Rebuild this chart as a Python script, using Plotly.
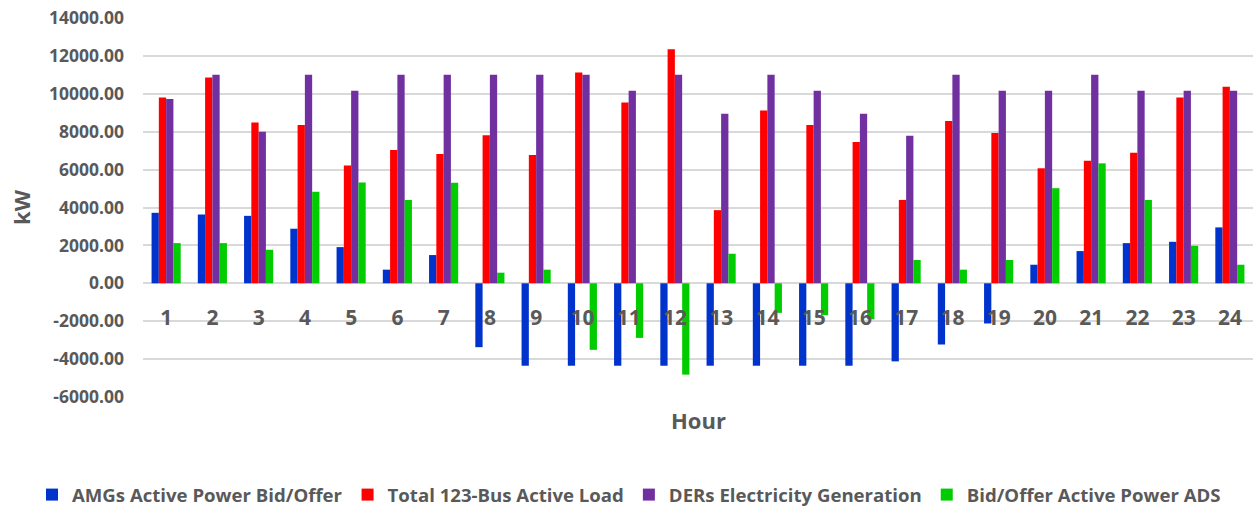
import plotly.graph_objects as go

hours = [str(h) for h in range(1, 25)]

amg_bid = [3720, 3630, 3560, 2880, 1910, 720, 1490, -3370, -4350, -4350, -4350, -4350,
           -4350, -4350, -4350, -4350, -4120, -3230, -2120, 980, 1700, 2120, 2190, 2950]
total_load = [9800, 10860, 8490, 8350, 6210, 7040, 6820, 7810, 6770, 11120, 9540, 12350,
              3860, 9120, 8350, 7460, 4400, 8560, 7930, 6070, 6470, 6890, 9800, 10370]
der_gen = [9720, 11000, 8000, 11000, 10160, 11000, 11000, 11000, 11000, 11000, 10160, 11000,
           8950, 11000, 10160, 8950, 7790, 11000, 10160, 10160, 11000, 10160, 10160, 10160]
ads_bid = [2120, 2120, 1770, 4830, 5320, 4400, 5300, 560, 720, -3510, -2880, -4820,
           1560, -1560, -1680, -1900, 1230, 720, 1230, 5020, 6330, 4400, 1980, 980]

y_tick_vals = [-6000, -4000, -2000, 0, 2000, 4000, 6000, 8000, 10000, 12000, 14000]
y_tick_text = ["-6000.00", "-4000.00", "-2000.00", "0.00", "2000.00", "4000.00",
               "6000.00", "8000.00", "10000.00", "12000.00", "14000.00"]

series = [
    ("AMGs Active Power Bid/Offer", amg_bid, "#0033CC"),
    ("Total 123-Bus Active Load", total_load, "#FF0000"),
    ("DERs Electricity Generation", der_gen, "#7030A0"),
    ("Bid/Offer Active Power ADS", ads_bid, "#00CC00"),
]

fig = go.Figure()
for name, vals, col in series:
    fig.add_trace(go.Bar(x=hours, y=vals, name=name, marker_color=col, marker_line_width=0))

gray = "#595959"
font_fam = "Open Sans, Liberation Sans, sans-serif"

fig.update_layout(
    width=1254, height=508,
    margin=dict(l=143, r=1, t=18, b=111, autoexpand=False),
    paper_bgcolor="white", plot_bgcolor="white",
    barmode="group", bargap=0.37, bargroupgap=0,
    font=dict(family=font_fam, color=gray),
    showlegend=True,
    legend=dict(orientation="h", xref="paper", x=(32 - 143) / 1110, xanchor="left",
                y=(397 - 495) / 379, yanchor="middle",
                font=dict(size=18.6, color=gray, family=font_fam, weight="bold"),
                tracegroupgap=0, itemwidth=30),
    annotations=[dict(text="<b>Hour</b>", xref="paper", yref="paper", x=0.5, y=(397 - 420) / 379,
                      xanchor="center", yanchor="middle", showarrow=False,
                      font=dict(size=22, color=gray, family=font_fam))],
)

zero_pos = (397 - 283) / 379

fig.update_xaxes(
    type="category", anchor="free", position=zero_pos, dtick=1,
    showline=False, showgrid=False, ticks="", ticklabelstandoff=20,
    tickfont=dict(size=21, color=gray, family=font_fam, weight="bold"),
    zeroline=False, automargin=False,
)
fig.update_yaxes(
    range=[-6000, 14000], tickmode="array", tickvals=y_tick_vals, ticktext=y_tick_text,
    showgrid=True, gridcolor="#D9D9D9", gridwidth=1.5,
    zeroline=True, zerolinecolor="#D9D9D9", zerolinewidth=1.5,
    showline=False, ticks="", ticklabelstandoff=18, automargin=False,
    tickfont=dict(size=17.5, color=gray, family=font_fam, weight="bold"),
    title=dict(text="<b>kW</b>", font=dict(size=22, color=gray, family=font_fam), standoff=12),
)

fig.write_html("out.html")
